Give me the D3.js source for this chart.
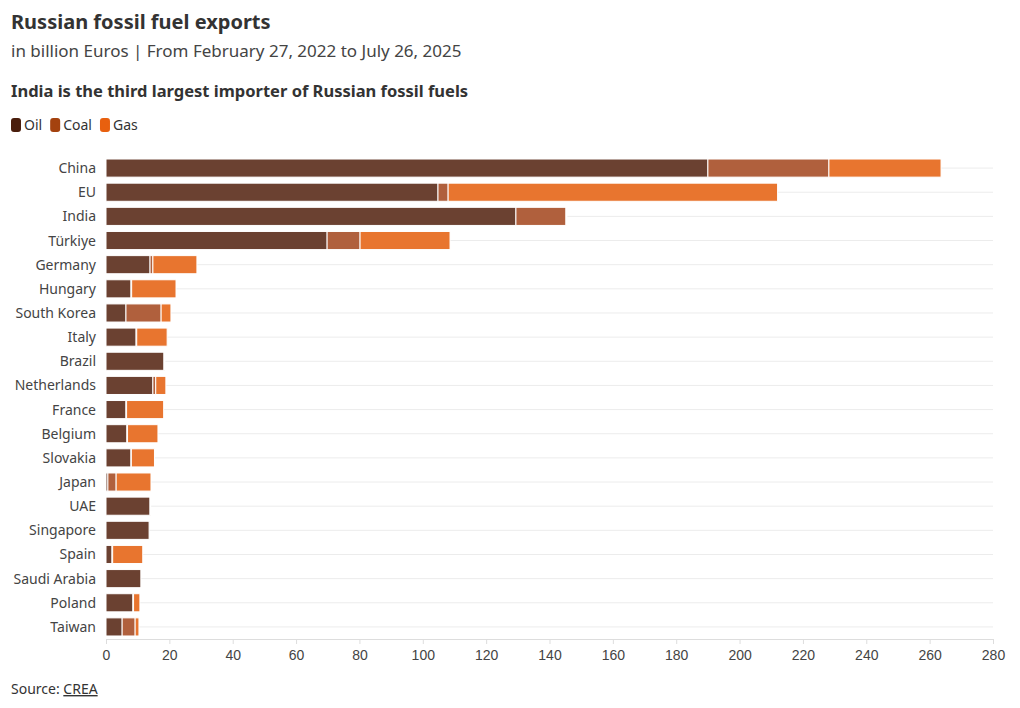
<!DOCTYPE html>
<html><head><meta charset="utf-8">
<script src="https://cdn.jsdelivr.net/npm/d3@7"></script>
<style>
body{margin:0;background:#fff;font-family:"Source Sans Pro","Noto Sans",sans-serif;}
</style></head><body>
<svg id="chart" width="1020" height="708"></svg>
<script>
const countries = ["China","EU","India","Türkiye","Germany","Hungary","South Korea","Italy","Brazil","Netherlands","France","Belgium","Slovakia","Japan","UAE","Singapore","Spain","Saudi Arabia","Poland","Taiwan"]
const oil  = [190, 104.8, 129.4, 69.8, 13.9, 7.9, 6.3, 9.5, 18.3, 14.8, 6.3, 6.6, 7.9, 0.6, 13.9, 13.6, 1.9, 11, 8.5, 5.1]
const coal = [38.2, 3.2, 15.8, 10.4, 0.9, 0.2, 11.1, 0.2, 0.3, 0.9, 0.2, 0.2, 0.1, 2.6, 0.2, 0, 0.2, 0, 0.2, 4.1]
const gas  = [35.4, 104, 0.3, 28.4, 13.9, 14, 3.1, 9.6, 0, 3.2, 11.7, 9.6, 7.3, 11, 0, 0, 9.5, 0, 2, 1.2]
const fuels = ["Oil","Coal","Gas"]
const barColors = ["#6b4131","#b0603d","#e8752f"]
const legendColors = ["#4a1d0c","#a4420f","#e8600f"]
const xTicks = d3.range(0, 281, 20)

const svg = d3.select("#chart")
const fg = "#333"

svg.append("text").attr("x",11).attr("y",29).attr("font-size",20).attr("font-weight",700).attr("fill",fg).text("Russian fossil fuel exports")
svg.append("text").attr("x",11).attr("y",57).attr("font-size",17).attr("fill","#444").text("in billion Euros | From February 27, 2022 to July 26, 2025")
svg.append("text").attr("x",11).attr("y",97).attr("font-size",16.5).attr("font-weight",700).attr("fill",fg).text("India is the third largest importer of Russian fossil fuels")

// legend
let lx = 11
fuels.forEach((f,i) => {
  svg.append("rect").attr("x",lx).attr("y",118).attr("width",10).attr("height",14).attr("rx",3).attr("fill",legendColors[i])
  const t = svg.append("text").attr("x",lx+13).attr("y",130).attr("font-size",14).attr("fill",fg).text(f)
  lx += 13 + t.node().getComputedTextLength() + 8
})

const x = d3.scaleLinear().domain([0,280]).range([106,993])
const y = d3.scaleBand().domain(countries).range([156,639]).paddingInner(0.25).paddingOuter(0.125)

// row lines
svg.append("g").selectAll("line").data(countries).join("line")
  .attr("x1",106).attr("x2",993)
  .attr("y1",d=>y(d)+y.bandwidth()/2).attr("y2",d=>y(d)+y.bandwidth()/2)
  .attr("stroke","#ececec")

const rows = countries.map((c,i)=>({c, vals:[oil[i],coal[i],gas[i]]}))
const stack = d3.stack().keys([0,1,2]).value((d,k)=>d.vals[k])(rows)

stack.forEach((layer,k) => {
  svg.append("g").selectAll("rect").data(layer).join("rect")
    .attr("x",d=>x(d[0])).attr("y",d=>y(d.data.c))
    .attr("width",d=>Math.max(0,x(d[1])-x(d[0])))
    .attr("height",y.bandwidth())
    .attr("fill",barColors[k]).attr("stroke","#fff").attr("stroke-width",1)
})

// y axis labels
svg.append("g").selectAll("text").data(countries).join("text")
  .attr("x",96).attr("y",d=>y(d)+y.bandwidth()/2+5)
  .attr("text-anchor","end").attr("font-size",14).attr("fill","#444").text(d=>d)

// x axis
const xa = svg.append("g").attr("transform","translate(0,639)")
  .call(d3.axisBottom(x).tickValues(xTicks).tickSize(5).tickPadding(6))
xa.select(".domain").attr("stroke","#ddd")
xa.selectAll(".tick line").attr("stroke","#ddd")
xa.selectAll(".tick text").attr("font-size",14).attr("fill","#444").attr("font-family","inherit")

const src = svg.append("text").attr("x",11).attr("y",694).attr("font-size",14).attr("fill",fg)
src.append("tspan").text("Source: ")
src.append("tspan").attr("text-decoration","underline").text("CREA")
</script>
</body></html>
